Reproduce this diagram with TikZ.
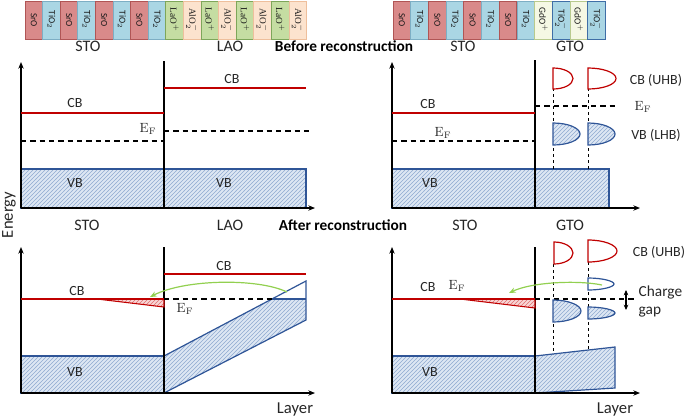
\documentclass[tikz,border=0pt]{standalone}
\usepackage[no-math]{fontspec}
\setmainfont{Carlito}
\newfontfamily\tnr{Liberation Serif}
\usetikzlibrary{patterns,arrows.meta}
\definecolor{sroF}{HTML}{D98A8A}
\definecolor{sroD}{HTML}{B05555}
\definecolor{tioF}{HTML}{AAD6E4}
\definecolor{tioD}{HTML}{7DAEC4}
\definecolor{laoF}{HTML}{C5DDA2}
\definecolor{laoD}{HTML}{7EA65A}
\definecolor{aloF}{HTML}{FCE3CE}
\definecolor{aloD}{HTML}{EEBF9C}
\definecolor{gdoF}{HTML}{F5F8E4}
\definecolor{gdoD}{HTML}{B8CA8E}
\definecolor{gtoD}{HTML}{3F6EA6}
\definecolor{bandD}{HTML}{2F5597}
\definecolor{bandF}{HTML}{DDE7F3}
\definecolor{hatchB}{HTML}{8FAAD0}
\definecolor{cbred}{HTML}{C00000}
\definecolor{pinkF}{HTML}{F8D6D6}
\definecolor{hatchR}{HTML}{E07070}
\definecolor{arrgreen}{HTML}{92D050}
\begin{document}
\begin{tikzpicture}[x=0.75pt,y=-0.75pt,
  layer/.style={draw, rotate=-90, minimum width=28.5pt, minimum height=13.2pt, inner sep=0pt, line width=0.6pt, text=black!90, font=\fontsize{7}{8}\selectfont},
  sro/.style={layer, fill=sroF, draw=sroD},
  tio/.style={layer, fill=tioF, draw=tioD},
  lao/.style={layer, fill=laoF, draw=laoD, font=\tnr\fontsize{7}{8}\selectfont},
  alo/.style={layer, fill=aloF, draw=aloD, font=\tnr\fontsize{7}{8}\selectfont},
  gdo/.style={layer, fill=gdoF, draw=gdoD},
  tim/.style={layer, fill=tioF, draw=gtoD},
  title/.style={font=\fontsize{12}{13}\selectfont, text=black!85},
  bold/.style={font=\bfseries\fontsize{11.5}{13}\selectfont},
  lbl/.style={font=\fontsize{10.5}{12}\selectfont, text=black!85},
  ef/.style={font=\fontsize{10}{12}\selectfont, text=black!85},
  big/.style={font=\fontsize{12.5}{14}\selectfont, text=black!85},
  axis/.style={line width=0.8pt, -{Stealth[length=5pt,width=4pt]}},
  iface/.style={line width=0.8pt},
  cb/.style={cbred, line width=1pt},
  fermi/.style={line width=0.9pt, dash pattern=on 4pt off 3pt},
  vdash/.style={line width=0.6pt, dash pattern=on 2.5pt off 2pt},
  band/.style={draw=bandD, line width=0.9pt, preaction={fill=bandF}, pattern=north east lines, pattern color=hatchB},
  hatchonly/.style={preaction={fill=bandF}, pattern=north east lines, pattern color=hatchB},
  redtri/.style={draw=cbred, line width=0.8pt, preaction={fill=pinkF}, pattern=north east lines, pattern color=hatchR},
  uhb/.style={draw=cbred, line width=0.9pt, fill=white},
  lhb/.style={draw=bandD, line width=0.9pt, preaction={fill=bandF}, pattern=north east lines, pattern color=hatchB},
  lhbo/.style={draw=bandD, line width=0.9pt, fill=white},
  green/.style={arrgreen, line width=0.9pt, -{Stealth[length=5pt,width=4pt]}}
]
\useasboundingbox (0,0) rectangle (685,419);

% ---------- layer strips ----------
\foreach \i/\s/\t in {1/sro/SrO,2/tio/TiO$_2$,3/sro/SrO,4/tio/TiO$_2$,5/sro/SrO,6/tio/TiO$_2$,7/sro/SrO,8/tio/TiO$_2$,
  9/lao/LaO$^+$,10/alo/AlO$_2^-$,11/lao/LaO$^+$,12/alo/AlO$_2^-$,13/lao/LaO$^+$,14/alo/AlO$_2^-$,15/lao/LaO$^+$,16/alo/AlO$_2^-$}
  \node[\s] (L\i) at ({25+17.6*(\i-0.5)},20) {\t};
\foreach \i/\s/\t in {1/sro/SrO,2/tio/TiO$_2$,3/sro/SrO,4/tio/TiO$_2$,5/sro/SrO,6/tio/TiO$_2$,7/sro/SrO,8/tio/TiO$_2$,
  9/gdo/GdO$^+$,10/tim/TiO$_2^-$,11/gdo/GdO$^+$,12/tim/TiO$_2^-$}
  \node[\s] (R\i) at ({393+17.7*(\i-0.5)},20) {\t};

% ---------- titles ----------
\node[title] (t1) at (88,46) {STO};
\node[title] (t2) at (230,46) {LAO};
\node[bold] (t3) at (344,46) {Before reconstruction};
\node[title] (t4) at (463,46) {STO};
\node[title] (t5) at (570,46) {GTO};
\node[title] (t6) at (87,225) {STO};
\node[title] (t7) at (230,225) {LAO};
\node[bold] (t8) at (343,225) {After reconstruction};
\node[title] (t9) at (465,225) {STO};
\node[title] (t10) at (570,225) {GTO};
\node[big, rotate=90] (energy) at (9,215) {Energy};
\node[big] (layer1) at (295,409) {Layer};
\node[big] (layer2) at (615,409) {Layer};

% ---------- top-left panel ----------
\draw[band] (21,169) rectangle (306,208);
\coordinate (A0) at (21,208); \coordinate (Ay) at (21,62); \coordinate (Ax) at (315,208);
\draw[axis] (A0) -- (Ay);
\draw[axis] (A0) -- (Ax);
\coordinate (Ai1) at (164,61); \coordinate (Ai2) at (164,208);
\draw[iface] (Ai1) -- (Ai2);
\draw[cb] (21,113) -- (164,113);
\draw[cb] (164,88) -- (306,88);
\draw[fermi] (21,141) -- (164,141);
\draw[fermi] (164,131) -- (309,131);
\node[lbl] (a1) at (75,103) {CB};
\node[lbl] (a2) at (232,79) {CB};
\node[ef] (a3) at (148,129) {$\mathrm{E_F}$};
\node[lbl] (a4) at (75,183) {VB};
\node[lbl] (a5) at (224,183) {VB};

% ---------- top-right panel ----------
\draw[band] (392,169) rectangle (609,208);
\coordinate (B0) at (392,208); \coordinate (By) at (392,62); \coordinate (Bx) at (640,208);
\draw[axis] (B0) -- (By);
\draw[axis] (B0) -- (Bx);
\coordinate (Bi1) at (535,60); \coordinate (Bi2) at (535,208);
\draw[iface] (Bi1) -- (Bi2);
\draw[cb] (392,113) -- (535,113);
\draw[fermi] (392,141) -- (535,141);
\draw[fermi] (535,106) -- (615,106);
\draw[vdash] (553,70) -- (553,169);
\draw[vdash] (588,70) -- (588,169);
% UHB
\draw[uhb] (553,68) .. controls (564,68) and (573,72.5) .. (573,78.5) .. controls (573,84.5) and (564,89) .. (553,89) -- cycle;
\draw[uhb] (588,68) .. controls (603,68) and (616,72.5) .. (616,78.5) .. controls (616,84.5) and (603,89) .. (588,89) -- cycle;
% LHB
\draw[lhb] (553,123) .. controls (568,123) and (580,128) .. (580,134) .. controls (580,140) and (568,145) .. (553,145) -- cycle;
\draw[lhb] (588,123) .. controls (603,123) and (615,128) .. (615,134) .. controls (615,140) and (603,145) .. (588,145) -- cycle;
\node[lbl] (b1) at (428,104) {CB};
\node[ef] (b2) at (443,133) {$\mathrm{E_F}$};
\node[ef] (b3) at (643,107) {$\mathrm{E_F}$};
\node[lbl] (b4) at (430,183) {VB};
\node[lbl] (b5) at (656,80) {CB (UHB)};
\node[lbl] (b6) at (656,135) {VB (LHB)};

% ---------- bottom-left panel ----------
\draw[band] (21,356) rectangle (164,393);
\path[hatchonly] (164,356) -- (272,299) -- (306,299) -- (306,320) -- (164,393) -- cycle;
\draw[draw=bandD, line width=0.9pt] (164,356) -- (306,281) -- (306,320) -- (164,393) -- cycle;
\draw[draw=bandD, line width=0.9pt] (272,299) -- (306,299);
\coordinate (C0) at (21,393); \coordinate (Cy) at (21,247); \coordinate (Cx) at (315,393);
\draw[axis] (C0) -- (Cy);
\draw[axis] (C0) -- (Cx);
\coordinate (Ci1) at (164,247); \coordinate (Ci2) at (164,393);
\draw[iface] (Ci1) -- (Ci2);
\draw[redtri] (97,299) -- (164,307) -- (164,299) -- cycle;
\draw[cb] (21,299) -- (164,299);
\draw[cb] (164,274) -- (306,274);
\draw[fermi] (164,299) -- (272,299);
\coordinate (g1s) at (287,292); \coordinate (g1e) at (150,297);
\draw[green] (g1s) .. controls (258,278) and (185,279) .. (g1e);
\node[lbl] (c1) at (77,291) {CB};
\node[lbl] (c2) at (224,266) {CB};
\node[ef] (c3) at (185,309) {$\mathrm{E_F}$};
\node[lbl] (c4) at (75,372) {VB};

% ---------- bottom-right panel ----------
\draw[band] (392,356) rectangle (535,393);
\draw[band] (535,356) -- (615,347) -- (615,388) -- (535,393) -- cycle;
\coordinate (D0) at (392,393); \coordinate (Dy) at (392,247); \coordinate (Dx) at (640,393);
\draw[axis] (D0) -- (Dy);
\draw[axis] (D0) -- (Dx);
\coordinate (Di1) at (535,247); \coordinate (Di2) at (535,393);
\draw[iface] (Di1) -- (Di2);
\draw[vdash] (553,264) -- (553,354);
\draw[vdash] (588,262) -- (588,350);
\draw[redtri] (460,299) -- (535,308) -- (535,299) -- cycle;
\draw[cb] (392,299) -- (535,299);
\draw[fermi] (535,299) -- (635,299);
% UHB
\draw[uhb] (554,242) .. controls (564.5,242) and (573,247) .. (573,253) .. controls (573,259) and (564.5,264) .. (554,264) -- cycle;
\draw[uhb] (588,240) .. controls (604,240) and (617,245) .. (617,251) .. controls (617,257) and (604,262) .. (588,262) -- cycle;
% upper open LHB
\draw[lhbo] (588,278) .. controls (602,278) and (614,281) .. (614,284) .. controls (614,287) and (602,290) .. (588,290) -- cycle;
% filled LHB
\draw[lhb] (553,300) .. controls (568,300) and (581,305) .. (581,311) .. controls (581,317) and (568,322) .. (553,322) -- cycle;
\draw[lhb] (588,307) .. controls (603,307) and (615,310) .. (615,313) .. controls (615,316) and (603,319) .. (588,319) -- cycle;
\coordinate (g2s) at (602,285); \coordinate (g2e) at (509,293);
\draw[green] (g2s) .. controls (578,280) and (532,282) .. (g2e);
\coordinate (cg1) at (626,290); \coordinate (cg2) at (626,310);
\draw[line width=0.8pt, {Stealth[length=4pt,width=3.5pt]}-{Stealth[length=4pt,width=3.5pt]}] (cg1) -- (cg2);
\node[lbl] (d1) at (428,287) {CB};
\node[ef] (d2) at (457,286) {$\mathrm{E_F}$};
\node[lbl] (d3) at (430,372) {VB};
\node[lbl] (d4) at (659,252) {CB (UHB)};
\node[big, anchor=west, font=\fontsize{11.5}{13}\selectfont] (d5) at (634,292) {Charge};
\node[big, anchor=west, font=\fontsize{11.5}{13}\selectfont] (d6) at (634,312) {gap};
\end{tikzpicture}
\end{document}
